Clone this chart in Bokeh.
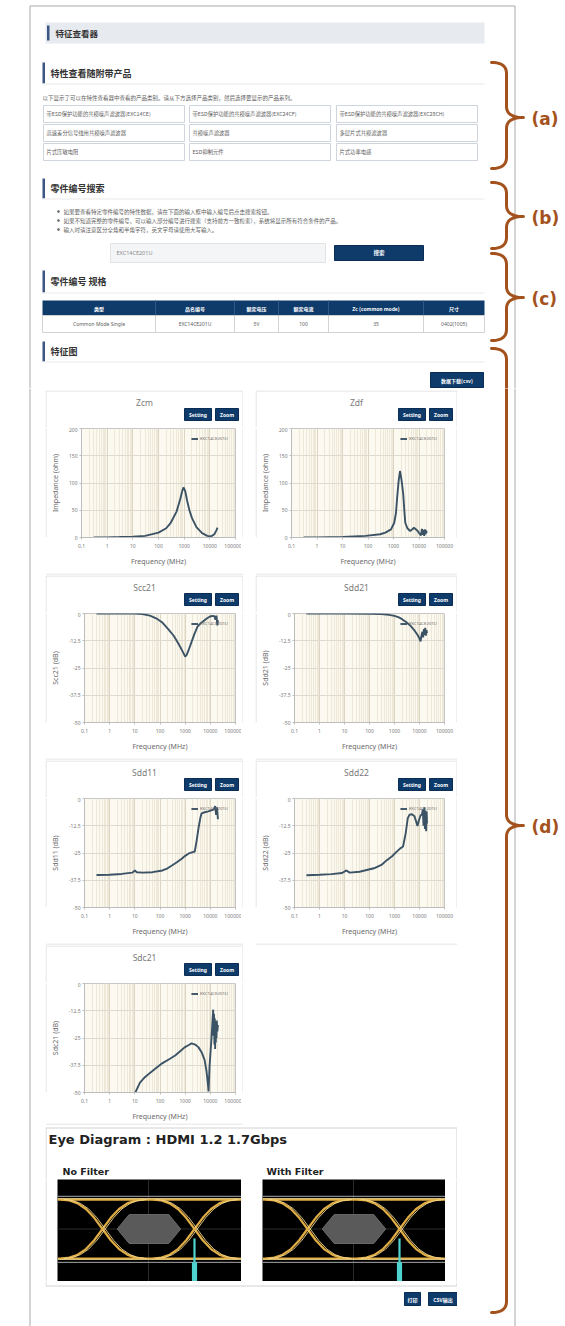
import numpy as np
from bokeh.core.properties import value
from bokeh.embed import file_html
from bokeh.layouts import column, row
from bokeh.models import CustomJSTickFormatter, FixedTicker, Range1d, Spacer
from bokeh.plotting import figure
from bokeh.resources import INLINE

# ---------------------------------------------------------------- data
PART_NO = "EXC14CE201U"

FREQ_TICKS = [0.1, 1, 10, 100, 1000, 10000, 100000]
FREQ_MINOR = [m * 10.0 ** e for e in range(-1, 5) for m in range(2, 10)]
Z_TICKS = [0, 50, 100, 150, 200]
DB_TICKS = [-50, -37.5, -25, -12.5, 0]

ZCM_FREQ = [0.3, 1, 3, 10, 30, 100, 200, 300, 500, 700, 850, 950, 1100, 1300, 1600, 2000,
            3000, 5000, 8000, 10000, 12000, 15000, 18000, 20000]
ZCM_OHM = [0.2, 0.3, 0.8, 1.5, 3, 9, 17, 27, 47, 70, 86, 92, 85, 68, 50, 36,
           19, 8, 3, 2, 3, 6, 13, 18]

ZDF_FREQ = [0.3, 1, 10, 80, 300, 480, 800, 1070, 1250, 1400, 1600, 1800, 2000, 2200, 2400,
            2700, 2900, 3500, 4500, 5500, 6300, 7500, 8900, 10500, 12000, 13000, 14000,
            15000, 16000, 17000, 18000, 19000, 20000]
ZDF_OHM = [0.1, 0.2, 0.8, 3, 6, 9, 15, 27, 45, 75, 105, 122, 110, 95, 80,
           45, 27, 17, 12, 15, 18, 15, 12, 7, 4, 16, 5,
           14, 3, 15, 6, 13, 8]

SCC21_FREQ = [0.3, 1, 5, 10, 20, 40, 70, 120, 220, 350, 550, 800, 1000, 1150, 1400, 1800,
              2400, 3100, 4000, 5100, 7000, 9300, 12000, 14500, 16000, 17500, 19000, 20000]
SCC21_DB = [0, 0, 0, -0.05, -0.3, -1.0, -2.2, -4.0, -7.4, -10.2, -14.0, -17.5, -19.8, -19.0,
            -16.5, -13.0, -9.0, -6.0, -4.6, -3.7, -2.4, -1.5, -1.1, -1.2, -2.8, -1.0, -5.5, -3.0]

SDD21_FREQ = [0.3, 1, 10, 100, 300, 600, 1000, 1500, 2000, 3000, 4500, 6500, 8500, 10000,
              11000, 12000, 13000, 14000, 15000, 16000, 17000, 18000, 19000, 20000]
SDD21_DB = [0, 0, 0, -0.1, -0.3, -0.6, -1.1, -1.8, -2.6, -4.0, -5.8, -8.0, -10.0, -11.5,
            -12.8, -10.2, -8.4, -11.0, -7.2, -9.8, -6.6, -10.2, -7.6, -9.0]

SDD11_FREQ = [0.3, 1, 3, 8, 10, 12, 20, 50, 126, 200, 309, 500, 750, 1000, 1400, 2000,
              2400, 2800, 3400, 4000, 4500, 6000, 8300, 11000, 14000, 15500, 17000, 18500, 20000]
SDD11_DB = [-35.1, -35.0, -34.6, -34.0, -33.0, -33.8, -34.0, -33.8, -33.0, -32.0, -30.6,
            -29.0, -27.5, -26.3, -25.2, -24.6, -24.3, -20.0, -13.5, -9.0, -6.8, -6.3, -5.9,
            -5.4, -5.0, -3.5, -7.5, -4.0, -9.5]

SDD22_FREQ = [0.3, 1, 3, 8, 12, 16, 40, 150, 300, 480, 800, 1200, 1660, 2200, 2800, 3400,
              4000, 5000, 6300, 7300, 8300, 9500, 11000, 12600, 13500, 14500, 15500, 16500,
              17500, 18500, 19300, 20000]
SDD22_DB = [-35.2, -35.0, -34.7, -34.2, -33.0, -34.0, -33.6, -32.0, -30.5, -28.4, -26.5,
            -24.5, -23.0, -22.0, -16.0, -9.0, -7.4, -7.2, -8.1, -10.5, -12.6, -10.0, -7.8,
            -7.2, -5.0, -12.5, -4.0, -14.0, -5.5, -15.0, -6.0, -11.5]

SDC21_FREQ = [6, 8, 10, 16, 25, 40, 70, 126, 250, 400, 650, 950, 1400, 1800, 2500, 3400,
              4500, 5900, 7000, 8000, 8500, 9300, 11000, 12500, 13000, 13500, 14000, 14500,
              15000, 15500, 16000, 16500, 17000, 17500, 18000, 19000, 20000]
SDC21_DB = [-58, -54, -50.5, -45.5, -43, -41, -38.8, -36.5, -34.5, -33, -31, -29.3, -28.2,
            -27.5, -28, -29.3, -31.5, -35, -40, -46, -49.5, -38, -26, -15, -12, -24, -14,
            -28, -16, -30, -18, -27, -20, -25, -17, -22, -19]

CHARTS = [
    ("Zcm", ZCM_FREQ, ZCM_OHM, Z_TICKS, "Impedance (ohm)"),
    ("Zdf", ZDF_FREQ, ZDF_OHM, Z_TICKS, "Impedance (ohm)"),
    ("Scc21", SCC21_FREQ, SCC21_DB, DB_TICKS, "Scc21 (dB)"),
    ("Sdd21", SDD21_FREQ, SDD21_DB, DB_TICKS, "Sdd21 (dB)"),
    ("Sdd11", SDD11_FREQ, SDD11_DB, DB_TICKS, "Sdd11 (dB)"),
    ("Sdd22", SDD22_FREQ, SDD22_DB, DB_TICKS, "Sdd22 (dB)"),
    ("Sdc21", SDC21_FREQ, SDC21_DB, DB_TICKS, "Sdc21 (dB)"),
]
CHART_BUTTONS = ["Setting", "Zoom"]

# eye diagram: rising edge read in unit intervals around a crossing
EYE_TITLE = "Eye Diagram : HDMI 1.2  1.7Gbps"
EYE_PANELS = ["No Filter", "With Filter"]
EYE_CROSSINGS = [0.0, 1.0]
EYE_EDGE_DT = [-0.45, -0.36, -0.27, -0.18, -0.09, 0.0, 0.09, 0.18, 0.27, 0.36, 0.45]
EYE_EDGE_V = [-1.0, -0.97, -0.87, -0.68, -0.38, 0.0, 0.38, 0.68, 0.87, 0.97, 1.0]
EYE_JITTER = [0.0, 0.03]
EYE_MASK_T = [0.16, 0.29, 0.72, 0.85, 0.72, 0.29]
EYE_MASK_V = [0.0, 0.49, 0.49, 0.0, -0.49, -0.49]

# page texts
PAGE_TITLE = "特征查看器"
SEC_A = "特性查看随附带产品"
SEC_A_NOTE = "以下显示了可以在特性查看器中查看的产品类别。请从下方选择产品类别，然后选择要显示的产品系列。"
CATEGORIES = [
    ["带ESD保护功能的共模噪声滤波器(EXC14CE)", "带ESD保护功能的共模噪声滤波器(EXC24CF)", "带ESD保护功能的共模噪声滤波器(EXC28CH)"],
    ["高速差分信号线用共模噪声滤波器", "共模噪声滤波器", "多层片式共模滤波器"],
    ["片式压敏电阻", "ESD抑制元件", "片式功率电感"],
]
SEC_B = "零件编号搜索"
SEARCH_NOTES = [
    "如果要查看特定零件编号的特性数据，请在下面的输入框中输入编号后点击搜索按钮。",
    "如果不知道完整的零件编号，可以输入部分编号进行搜索（支持前方一致检索），系统将显示所有符合条件的产品。",
    "输入时请注意区分全角和半角字符，英文字母请使用大写输入。",
]
SEARCH_BTN = "搜索"
SEC_C = "零件编号 规格"
TABLE_HEAD = ["类型", "品名编号", "额定电压", "额定电流", "Zc (common mode)", "尺寸"]
TABLE_ROW = ["Common Mode Single", PART_NO, "5V", "100", "35", "0402(1005)"]
SEC_D = "特征图"
CSV_BTN = "数据下载(csv)"
BOTTOM_BTNS = ["打印", "CSV输出"]

# ---------------------------------------------------------------- style
CJK = "Noto Sans CJK SC"
LAT = "Noto Sans"
NAVY = "#0f3b6b"
ACCENT = "#3b5683"
BRACE = "#a4521d"
PAGE_LINE = "#a8a8a8"
CARD_LINE = "#dedede"
TEXT_DARK = "#333333"
TEXT_BODY = "#5e5e5e"
PLOT_BG = "#fcf9f0"
TRACE = "#3b5365"

PAGE_W = 565
HEADER_H = 388
BODY_H = 1326 - HEADER_H
CARD_H = 178
CARD_HEAD = 37
FRAME_H = 113
ROW_GAP = 7
EYE_H = 102
EYE_UI_PX = 92.0
EYE_LEFT_PX = 45.0
EYE_V_RANGE = (-1.78, 1.68)


def blank(width, height, x0, y0, bg="white"):
    """Plain drawing surface whose data units are page pixels (y pointing down)."""
    p = figure(width=width, height=height, x_range=Range1d(x0, x0 + width),
               y_range=Range1d(y0 + height, y0), x_axis_type=None, y_axis_type=None,
               min_border=0, outline_line_color=None, background_fill_color=bg,
               border_fill_color=bg, output_backend="svg", toolbar_location=None, title=None)
    return p


def put_text(p, x, y, text, size, color=TEXT_BODY, font=CJK, bold=False, align="left"):
    p.text(x=[x], y=[y], text=[text], text_font=value(font), text_font_size=size,
           text_color=color, text_font_style="bold" if bold else "normal",
           text_align=align, text_baseline="middle")


def button(p, left, right, top, bottom, label, size="5px", font=CJK):
    p.quad(left=[left], right=[right], top=[top], bottom=[bottom], fill_color=NAVY,
           line_color="#0a2d55")
    put_text(p, (left + right) / 2, (top + bottom) / 2, label, size, "white", font=font,
             bold=True, align="center")


def heading(p, top, bottom, label):
    p.quad(left=[42], right=[44.5], top=[top], bottom=[bottom], fill_color=ACCENT, line_color=None)
    put_text(p, 50, (top + bottom) / 2, label, "9px", TEXT_DARK, bold=True)
    p.segment(x0=[42], y0=[bottom + 0.5], x1=[484], y1=[bottom + 0.5], line_color="#e9e9e9")


def brace_xy(top, bottom, tip, x_end=491.0, x_stem=506.0, x_tip=523.0, r=11.0):
    s = np.linspace(0.0, 1.0, 12)

    def curve(a, c, b):
        return [(1 - s) ** 2 * a[i] + 2 * (1 - s) * s * c[i] + s ** 2 * b[i] for i in (0, 1)]

    pieces = [curve((x_end, top), (x_stem, top), (x_stem, top + r)),
              curve((x_stem, tip - r), (x_stem, tip), (x_tip, tip)),
              curve((x_tip, tip), (x_stem, tip), (x_stem, tip + r)),
              curve((x_stem, bottom - r), (x_stem, bottom), (x_end, bottom))]
    return np.concatenate([c[0] for c in pieces]), np.concatenate([c[1] for c in pieces])


def brace(p, top, bottom, tip, tag=None):
    xs, ys = brace_xy(top, bottom, tip)
    p.line(xs, ys, line_color=BRACE, line_width=3, line_cap="round", line_join="round")
    if tag:
        put_text(p, 531, tip + 1, tag, "17px", BRACE, font="DejaVu Sans", bold=True)


BRACES = [(62, 168, 117, "(a)"), (182, 248, 216, "(b)"), (253, 340, 297, "(c)"),
          (348, 1312, 825, "(d)")]

# ---------------------------------------------------------------- header part
hdr = blank(PAGE_W, HEADER_H, 0, 0)
hdr.line([29.5, 29.5, 514.5, 514.5], [HEADER_H, 5.5, 5.5, HEADER_H], line_color=PAGE_LINE)

hdr.quad(left=[45], right=[484], top=[22], bottom=[43], fill_color="#e7eaef", line_color=None)
hdr.quad(left=[46.5], right=[49], top=[25], bottom=[40], fill_color=ACCENT, line_color=None)
put_text(hdr, 55, 32.5, PAGE_TITLE, "8.5px", TEXT_DARK, bold=True)

# (a) product categories
heading(hdr, 62, 83, SEC_A)
put_text(hdr, 42, 97, SEC_A_NOTE, "5.5px")
cell_x = [(43, 184), (189, 330), (336, 477)]
cell_y = [(105, 122), (124, 141), (143, 160)]
for r_i, (t, b) in enumerate(cell_y):
    for c_i, (l, r) in enumerate(cell_x):
        hdr.quad(left=[l], right=[r], top=[t], bottom=[b], fill_color="white",
                 line_color="#cfd5dc")
        put_text(hdr, l + 3, (t + b) / 2, CATEGORIES[r_i][c_i], "5.3px")

# (b) part number search
heading(hdr, 178, 198, SEC_B)
for i, note in enumerate(SEARCH_NOTES):
    y = 211 + 9 * i
    hdr.scatter([58], [y], size=2, color="#777777")
    put_text(hdr, 63, y, note, "5.5px")
hdr.quad(left=[110], right=[325], top=[243], bottom=[262], fill_color="#f4f5f7",
         line_color="#e3e3e3")
put_text(hdr, 116, 252.5, PART_NO, "5.5px", "#8a8a8a", font=LAT)
button(hdr, 334, 423, 245, 260, SEARCH_BTN, "5.5px")

# (c) specification table
heading(hdr, 270, 292, SEC_C)
col_edges = [42, 155, 234, 278, 328, 423, 484]
hdr.quad(left=[42], right=[484], top=[300], bottom=[315], fill_color=NAVY, line_color=None)
hdr.quad(left=[42], right=[484], top=[315], bottom=[332], fill_color="white", line_color="#d3d3d3")
for i in range(len(TABLE_HEAD)):
    l, r = col_edges[i], col_edges[i + 1]
    if i > 0:
        hdr.segment(x0=[l], y0=[300], x1=[l], y1=[315], line_color="#2d5787")
        hdr.segment(x0=[l], y0=[315], x1=[l], y1=[332], line_color="#d3d3d3")
    put_text(hdr, (l + r) / 2, 307.5, TABLE_HEAD[i], "5px", "white", bold=True, align="center")
    put_text(hdr, (l + r) / 2, 323.5, TABLE_ROW[i], "5px", TEXT_BODY, font=LAT, align="center")

# (d) characteristic charts heading
heading(hdr, 341, 361, SEC_D)
button(hdr, 430, 483, 372, 387, CSV_BTN, "5px")

for top, bottom, tip, tag in BRACES[:-1]:
    brace(hdr, top, bottom, tip, tag)
brace(hdr, *BRACES[-1][:3])

# ---------------------------------------------------------------- side strips
left_strip = blank(45, BODY_H, 0, HEADER_H)
left_strip.segment(x0=[29.5], y0=[HEADER_H], x1=[29.5], y1=[HEADER_H + BODY_H], line_color=PAGE_LINE)

right_strip = blank(PAGE_W - 457, BODY_H, 457, HEADER_H)
right_strip.segment(x0=[514.5], y0=[HEADER_H], x1=[514.5], y1=[HEADER_H + BODY_H],
                    line_color=PAGE_LINE)
brace(right_strip, *BRACES[-1])


# ---------------------------------------------------------------- chart cards
def tick_labels():
    return CustomJSTickFormatter(code="return String(tick);")


def chart_plot(spec, width, height, pad_left, pad_right):
    title, freq, vals, ticks, ylab = spec
    p = figure(width=width, height=height, x_axis_type="log",
               x_range=Range1d(FREQ_TICKS[0], FREQ_TICKS[-1]),
               y_range=Range1d(ticks[0], ticks[-1]),
               min_border_left=pad_left, min_border_right=pad_right,
               min_border_top=1, min_border_bottom=height - 1 - FRAME_H,
               background_fill_color=PLOT_BG, border_fill_color="white",
               outline_line_color="#c6c6c6", output_backend="svg", toolbar_location=None,
               title=None)
    p.line(freq, vals, line_color=TRACE, line_width=1.9, legend_label=PART_NO)

    p.xaxis.ticker = FixedTicker(ticks=FREQ_TICKS, minor_ticks=FREQ_MINOR)
    p.yaxis.ticker = FixedTicker(ticks=ticks)
    p.xaxis.formatter = tick_labels()
    p.yaxis.formatter = tick_labels()
    p.xaxis.axis_label = "Frequency (MHz)"
    p.yaxis.axis_label = ylab
    for ax in (p.xaxis[0], p.yaxis[0]):
        ax.axis_line_color = "#bdbdbd"
        ax.major_tick_line_color = "#bdbdbd"
        ax.major_tick_out = 2
        ax.major_tick_in = 0
        ax.minor_tick_line_color = None
        ax.major_label_text_font = LAT
        ax.major_label_text_font_size = "5px"
        ax.major_label_text_color = "#7a7a7a"
        ax.major_label_standoff = 2
        ax.axis_label_text_font = LAT
        ax.axis_label_text_font_size = "7px"
        ax.axis_label_text_font_style = "normal"
        ax.axis_label_text_color = "#6a6a6a"
        ax.axis_label_standoff = 6

    p.xgrid.grid_line_color = "#dcd5c4"
    p.xgrid.minor_grid_line_color = "#eee8d8"
    p.ygrid.grid_line_color = "#dedad0"

    lg = p.legend[0]
    lg.location = "top_right"
    lg.label_text_font = LAT
    lg.label_text_font_size = "4.3px"
    lg.label_text_color = "#6a6a6a"
    lg.glyph_width = 7
    lg.glyph_height = 5
    lg.label_height = 5
    lg.label_standoff = 2
    lg.padding = 1
    lg.margin = 6
    lg.spacing = 0
    lg.background_fill_alpha = 0
    lg.border_line_alpha = 0
    return p


def chart_card(spec, x0, y0, width, pad_left, pad_right):
    """Card = head strip (title + buttons) over the plot, framed by thin side strips."""
    x1 = x0 + width
    head = blank(width, CARD_HEAD, x0, y0)
    head.line([x0 + 0.5, x0 + 0.5, x1 - 0.5, x1 - 0.5],
              [y0 + CARD_HEAD, y0 + 0.5, y0 + 0.5, y0 + CARD_HEAD], line_color=CARD_LINE)
    put_text(head, x0 + width / 2, y0 + 12, spec[0], "8.5px", "#7a7a7a", font=LAT, align="center")
    zoom_r = x1 - 5
    zoom_l = zoom_r - 23
    set_r = zoom_l - 4
    set_l = set_r - 27
    button(head, set_l, set_r, y0 + 18, y0 + 30, CHART_BUTTONS[0], "5px", font=LAT)
    button(head, zoom_l, zoom_r, y0 + 18, y0 + 30, CHART_BUTTONS[1], "5px", font=LAT)

    body_h = CARD_H - CARD_HEAD
    side_l = blank(2, body_h, x0, y0 + CARD_HEAD)
    side_l.segment(x0=[x0 + 0.5], y0=[y0 + CARD_HEAD], x1=[x0 + 0.5], y1=[y0 + CARD_H],
                   line_color=CARD_LINE)
    side_r = blank(2, body_h, x1 - 2, y0 + CARD_HEAD)
    side_r.segment(x0=[x1 - 0.5], y0=[y0 + CARD_HEAD], x1=[x1 - 0.5], y1=[y0 + CARD_H],
                   line_color=CARD_LINE)
    plot = chart_plot(spec, width - 4, body_h, pad_left - 2, pad_right - 2)
    return column(head, row(side_l, plot, side_r))


LEFT_CARD = (45, 198, 35, 8)
RIGHT_CARD = (255, 202, 33, 13)
MID_X0, MID_W = 45, 412
FIRST_ROW_Y = HEADER_H + 2

chart_rows = [Spacer(width=MID_W, height=2)]
n_rows = (len(CHARTS) + 1) // 2
for k in range(n_rows):
    y0 = FIRST_ROW_Y + k * (CARD_H + ROW_GAP)
    specs = CHARTS[2 * k:2 * k + 2]
    lx, lw, lpl, lpr = LEFT_CARD
    left = chart_card(specs[0], lx, y0, lw, lpl, lpr)
    if len(specs) > 1:
        rx, rw, rpl, rpr = RIGHT_CARD
        right = chart_card(specs[1], rx, y0, rw, rpl, rpr)
        chart_rows.append(row(left, Spacer(width=rx - lx - lw, height=CARD_H), right))
    else:
        chart_rows.append(row(left, Spacer(width=MID_W - lw, height=CARD_H)))
    if k < n_rows - 1:
        # bottom edges of the two cards above
        gap = blank(MID_W, ROW_GAP, MID_X0, y0 + CARD_H)
        gap.segment(x0=[45.5, 255.5], y0=[y0 + CARD_H + 0.5] * 2, x1=[242.5, 456.5],
                    y1=[y0 + CARD_H + 0.5] * 2, line_color=CARD_LINE)
        chart_rows.append(gap)

last_card_bottom = FIRST_ROW_Y + n_rows * CARD_H + (n_rows - 1) * ROW_GAP


# ---------------------------------------------------------------- eye diagram
def eye_plot(width):
    x0 = -EYE_LEFT_PX / EYE_UI_PX
    x1 = x0 + width / EYE_UI_PX
    p = figure(width=width, height=EYE_H, x_range=Range1d(x0, x1), y_range=Range1d(*EYE_V_RANGE),
               x_axis_type=None, y_axis_type=None, min_border=0, outline_line_color=None,
               background_fill_color="black", border_fill_color="black",
               output_backend="svg", toolbar_location=None, title=None)
    p.segment(x0=[0.5, x0], y0=[EYE_V_RANGE[0], 0], x1=[0.5, x1], y1=[EYE_V_RANGE[1], 0],
              line_color="#2c2c2c", line_width=1)
    p.segment(x0=[x0, x0], y0=[1.11, -1.13], x1=[x1, x1], y1=[1.11, -1.13],
              line_color="#a9a9a9", line_width=1)
    p.patch(EYE_MASK_T, EYE_MASK_V, fill_color="#5a5a5a", line_color="#6a6a6a")

    for k, jit in enumerate(EYE_JITTER):
        lv = 1.0 + 0.03 * k
        xs, ys = [[x0, x1], [x0, x1]], [[lv, lv], [-lv, -lv]]
        for c in EYE_CROSSINGS:
            t = [c + d + jit for d in EYE_EDGE_DT]
            xs += [t, t]
            ys += [EYE_EDGE_V, [-v for v in EYE_EDGE_V]]
        p.multi_line(xs, ys, line_color="#e0ad45" if k == 0 else "#f4d98f",
                     line_width=2.2 if k == 0 else 0.9)

    hist_x = EYE_CROSSINGS[-1]
    p.quad(left=[hist_x - 0.012], right=[hist_x + 0.012], top=[-0.32], bottom=[-1.13],
           fill_color="#4fd3d0", line_color=None)
    p.quad(left=[hist_x - 0.028], right=[hist_x + 0.028], top=[-1.13], bottom=[EYE_V_RANGE[0]],
           fill_color="#4fd3d0", line_color=None)
    return p


eye_y0 = last_card_bottom
eye_top = blank(MID_W, 56, MID_X0, eye_y0)
eye_top.segment(x0=[45.5], y0=[eye_y0 + 0.5], x1=[242.5], y1=[eye_y0 + 0.5], line_color=CARD_LINE)
eye_top.line([45.5, 45.5, 456.5, 456.5], [eye_y0 + 56, 1127.5, 1127.5, eye_y0 + 56],
             line_color="#d2d2d2")
put_text(eye_top, 48, 1139, EYE_TITLE, "13px", "#222222", font="DejaVu Sans", bold=True)
put_text(eye_top, 62, 1171, EYE_PANELS[0], "9.5px", "#222222", font="DejaVu Sans", bold=True)
put_text(eye_top, 266, 1171, EYE_PANELS[1], "9.5px", "#222222", font="DejaVu Sans", bold=True)

eye_row_y = eye_y0 + 56
pad_l = blank(12, EYE_H, 45, eye_row_y)
pad_l.segment(x0=[45.5], y0=[eye_row_y], x1=[45.5], y1=[eye_row_y + EYE_H], line_color="#d2d2d2")
pad_r = blank(12, EYE_H, 445, eye_row_y)
pad_r.segment(x0=[456.5], y0=[eye_row_y], x1=[456.5], y1=[eye_row_y + EYE_H], line_color="#d2d2d2")
eye_row = row(pad_l, eye_plot(184), Spacer(width=21, height=EYE_H), eye_plot(183), pad_r)

eye_bot_y = eye_row_y + EYE_H
eye_bottom = blank(MID_W, 1326 - eye_bot_y, MID_X0, eye_bot_y)
eye_bottom.line([45.5, 45.5, 456.5, 456.5], [eye_bot_y, 1285.5, 1285.5, eye_bot_y],
                line_color="#d2d2d2")
button(eye_bottom, 404, 420, 1292, 1305, BOTTOM_BTNS[0], "5px")
button(eye_bottom, 428, 457, 1292, 1305, BOTTOM_BTNS[1], "5px")

middle = column(*chart_rows, eye_top, eye_row, eye_bottom)
page = column(hdr, row(left_strip, middle, right_strip))

open("out.html", "w").write(file_html(page, INLINE))
